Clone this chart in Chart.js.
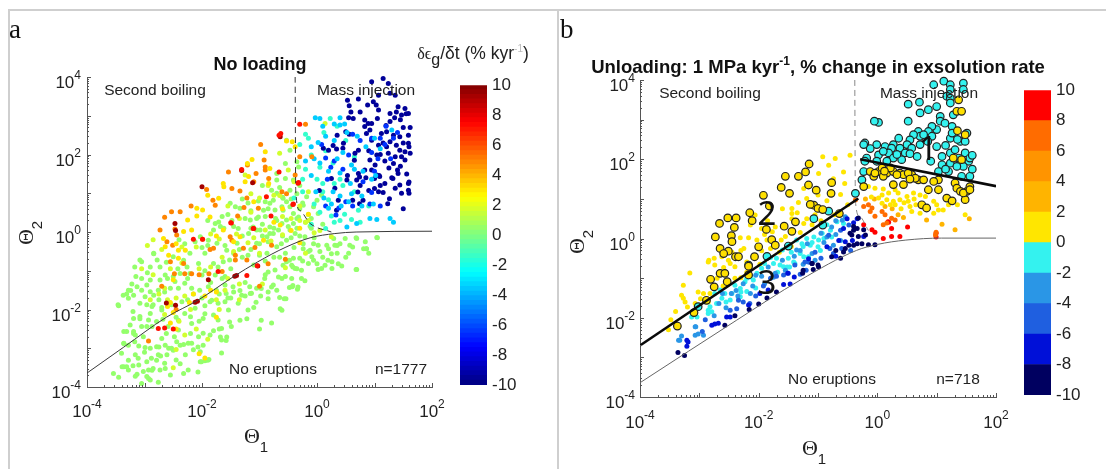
<!DOCTYPE html>
<html><head><meta charset="utf-8">
<script src="https://cdn.jsdelivr.net/npm/chart.js@4"></script>
<style>
html,body{margin:0;padding:0;background:#fff;width:1106px;height:469px;overflow:hidden}
canvas{position:absolute;filter:blur(0.45px)}
.rule{position:absolute;background:#cfcfcf}
</style></head><body>
<div class="rule" style="left:8px;top:9px;width:1098px;height:2px"></div>
<div class="rule" style="left:8px;top:9px;width:2px;height:460px"></div>
<div class="rule" style="left:557px;top:9px;width:2px;height:460px"></div>
<canvas id="ca" width="553" height="469" style="left:0;top:0"></canvas>
<canvas id="cb" width="553" height="469" style="left:553px;top:0"></canvas>
<canvas id="ba" width="90" height="350" style="left:450px;top:70px"></canvas>
<canvas id="bb" width="90" height="360" style="left:1014px;top:75px"></canvas>
<script>
// All point lists are [log10 Theta1, log10 Theta2].
const curveA=[[-4,-3.64],[-3.36,-2.97],[-2.62,-2.2],[-2.07,-1.76],[-1.46,-1.16],[-1.03,-.77],[-.54,-.39],[-.12,-.15],[.31,-.04],[.68,0],[2,.02]];
const curveB=[[-4,-3.64],[-2.37,-2.06],[-1.3,-1.05],[-.35,-.3],[0,-.15],[.48,-.04],[1.08,.01],[2,.01]];
const dashA=[[-.38,4],[-.37,1.07],[-.3,.56],[-.12,.22],[.25,0]];
const dashB=[[-.38,4],[-.37,.95],[-.3,.56],[-.15,.2]];
const line1B=[[-.29,2.0],[2,1.32]];
const line2B=[[-4,-2.7],[-.32,1.01]];

const aRates=[-9.5,-6.5,-3.5,-1.5,0.4,1.6,3,4.9,7.2,9.3];
const aNavy=[[1.15,3.96],[1.24,3.83],[.95,3.88],[1.27,3.58],[1.07,3.53],[1.36,3.53],[.98,3.36],[1.03,3.28],[.72,3.43],[.53,3.4],[.56,3.26],[.59,3.1],[.75,3.1],[.88,3.28],[1.07,3.15],[1.41,3.23],[1.53,3.19],[1.59,3.06],[1.38,3.1],[1.47,3.02],[1.27,3.06],[1.05,2.93],[.83,2.89],[.89,2.8],[.95,2.8],[.55,2.95],[.63,2.93],[.83,2.72],[.92,2.63],[.86,2.54],[.56,2.52],[.5,2.59],[.35,2.5],[1.27,2.85],[1.21,2.59],[1.33,2.5],[1.59,2.5],[1.44,2.46],[1.12,2.54],[1.27,2.33],[1.38,2.24],[1.59,2.29],[1.53,2.07],[1.47,1.94],[1.62,2.03],[1.44,2.11],[1.21,2.2],[1.07,2.24],[.95,2.37],[1.04,1.99],[1.24,2.03],[1.36,1.94],[1.53,1.86],[1.18,1.83],[1.33,1.77],[.92,1.86],[.72,2.11],[.66,2.03],[.11,2.16],[.2,2.11],[.28,2.23],[.46,2.29],[.45,2.16],[.34,2.14],[1.01,1.73],[.83,1.6],[.72,1.51],[1.04,1.47],[1.09,1.43],[1.41,1.51],[1.18,1.25],[1.36,1.13],[1.59,1.25],[1.59,1.08],[1.44,1.21],[.69,1.34],[.52,1.34],[.31,1.13],[1.07,1.04],[1.15,1.02],[1.5,.6],[1.6,1],[1.47,1],[1.32,1.38],[1.26,.86],[1.23,.73],[1,1.12],[.8,.82],[.74,.73],[.62,.82],[.37,.82],[.34,.56],[1.6,1.29],[1.56,1.5],[1,1.38],[.9,1.07],[.71,1.03],[.74,1.42],[.53,1.46],[.25,1.38],[.04,1.07],[1.08,1.46],[1.5,2.7],[1.62,2.7],[1.1,2],[.65,1.85],[.9,2.1],[1.25,1.65],[1.45,1.7],[1.3,1.4],[.85,1.4],[1.55,3.05],[1.45,2.9],[1.35,2.95],[1.2,2.75],[1.15,2.3],[1.5,2.3],[1.6,2.2],[1.4,1.6],[.75,1.2],[.95,1.6],[1.1,1.2]];
const aBlue=[[.95,2.42],[1.33,2.42],[1.4,2.57],[1.18,2.26],[.75,2.36],[.95,2.05],[1.06,1.89],[.55,1.99],[.3,1.83],[.24,1.67],[.08,2.26],[.15,1.91],[.18,1.36],[.5,.78],[.62,.67],[.95,1.02],[1.1,.67],[.62,2.52],[1.2,2.73],[.45,1.62],[.8,1.3],[.92,.72],[1,1.57],[.38,.62],[.33,.44],[.15,.67],[1.28,1.89],[1.1,2.42]];
const aCyan=[[1.27,.35],[1.33,.25],[1.04,.32],[.92,.35],[.69,.22],[.52,.13],[.2,.61],[.25,.72],[.4,.93],[.6,.99],[.78,.93],[.95,1.36],[.65,1.62],[.4,1.52],[.2,1.57],[.05,1.78],[-.05,1.89],[.3,2.36],[.15,2.47],[.02,2.31],[-.2,1.83],[-.1,2.2],[.45,2.05],[.6,1.73],[.8,1.57],[1.02,1.46],[.3,2.79],[.1,2.73],[-.03,2.95],[.48,2.79],[.52,2.57],[.85,2.2],[.7,2.47],[1.1,2.15],[1.3,2.63],[1,2.42],[.58,1.25],[.42,.67],[.28,1.04],[.12,.88],[-.02,1.04],[-.1,1.46],[.35,1.89],[.55,.78],[.78,.67],[.98,.72],[.05,2.93],[.4,2.95],[.4,2.76]];
const aTeal=[[-.15,2.42],[-.1,1.99],[.05,1.67],[.15,2.1],[.3,1.25],[.1,1.25],[.25,.41],[.48,.46],[.6,.32],[.75,.25],[.72,.56],[.9,.67],[.2,.83],[0,1.36],[-.25,1.36],[-.3,2.26],[-.2,2.52],[.35,2.73],[.28,1.78],[.65,1.94],[.5,2.36],[-.05,.72],[.05,.51],[-.4,.88],[.4,.3],[-.25,1.04],[.12,2.57],[.3,.25],[.15,.09],[-.1,.2],[-.2,1.62],[.4,1.36],[.1,1.04],[.45,1.2],[.65,1.04],[.23,2.93]];
const aGreen=[[-3.46,-1.88],[-3.22,-1.34],[-3.31,-1.6],[-3.28,-1.71],[-3.13,-1.41],[-3.05,-1.5],[-2.96,-1.37],[-2.9,-1.54],[-2.84,-1.63],[-3.08,-1.84],[-2.96,-1.88],[-2.87,-1.92],[-3.19,-2.23],[-3.25,-2.4],[-3.31,-2.57],[-3.36,-2.57],[-3.19,-2.57],[-3.16,-2.66],[-3.05,-2.44],[-2.96,-2.44],[-2.87,-2.44],[-3.36,-2.87],[-3.1,-2.94],[-2.99,-2.98],[-2.9,-3],[-2.79,-2.96],[-2.64,-2.92],[-2.58,-3],[-2.76,-3.17],[-2.79,-3.31],[-2.65,-3.39],[-3.16,-3.17],[-3.1,-3.43],[-3.28,-3.31],[-3.36,-3.48],[-3.31,-3.48],[-3.54,-3.65],[-3.45,-3.75],[-3.16,-3.72],[-3.13,-3.67],[-2.93,-3.56],[-2.96,-3.73],[-2.9,-3.82],[-2.76,-3.88],[-2.64,-3.52],[-2.55,-3.69],[-2.32,-3.65],[-2.24,-3.56],[-2.03,-3.35],[-1.95,-3.32],[-1.88,-3.29],[-2.29,-3.17],[-2.18,-2.87],[-2.15,-3.04],[-2.03,-3.09],[-1.98,-2.92],[-1.98,-2.61],[-1.66,-2.79],[-1.57,-2.71],[-1.66,-3.12],
[.68,-.15],[1.04,-.14],[.84,-.25],[.86,-.43],[.81,-.43],[.69,-.17],[.49,-.17],[.29,-.17],[.57,-.34],[.4,-.3],[.31,-.34],[.2,-.43],[.17,-.34],[.02,-.34],[-.06,-.3],[-.24,-.43],[-.09,-.64],[-.06,-.73],[-.15,-.81],[-.3,-.68],[-.41,-.68],[-.44,-.86],[-.38,-.94],[-.59,-.86],[-.53,-.77],[-.73,-.98],[-.85,-1.03],[-.61,-1.2],[-.44,-1.2],[-.27,-1.2],[-.21,-1.26],[-.76,-1.37],[-.97,-1.46],[-1.17,-1.41],[-.48,-1.43],[-.43,-1.41],[-.34,-1.48],[-.65,-1.69],[-.54,-1.72],[.26,-.94],[.14,-.86],[.02,-.97],[.08,-.94],[.26,-.77],[.43,-.88],[.69,-.97],[.35,-.55],
[-.59,.56],[-.47,.65],[-.41,.48],[-.35,.35],[-.53,.31],[-.61,.22],[-.82,.13],[-.76,-.04],[-.87,-.12],[-.47,.05],[-.38,-.04],[-.99,.05],[-.21,-.12],[-.06,.65],[.02,.48],[0,.82],[.08,.95],[-.18,.91],[-.24,.69],[-.59,.87],[-.76,.82],[-.93,.56],[-1.05,.35],[-1.11,.13],
[-1.51,.74],[-1.42,.65],[-1.34,.61],[-1.71,.26],[-1.77,.22],[-1.68,.14],[-1.8,.05],[-1.45,.14],[-1.37,.09],[-1.25,.35],[-1.16,.31],[-1.02,.39],[-.82,.74],[-.73,.57],[-.61,.65],[-.53,.78],[-.47,1.08],[-.35,.99],[-.7,1.34],[-.55,1.38],[-.41,1.34],[-.79,1.08],[-.9,.78],[-1.05,.05],[-.82,-.04],[-.67,.05],[-.5,.14],[-.41,.22],[-.32,.39],[-.53,-.21],[-.7,-.38],[-.87,-.55],[-1.05,-.29],[-1.19,-.04],[-1.39,-.29],[-1.57,-.47],[-1.74,-.29],[-1.89,-.21],[-2.03,-.12],[-1.95,-.55],[-2.21,-.55],[-2.5,-.64],[-2.84,-.55],[-3.08,-.72],[-2.9,-.9],[-2.73,-.9],[-1.8,-.81],[-1.63,-.77],[-2.06,-.81],[-2.26,-.9],[-.55,1.77],[-.7,1.51],[-.35,1.81],[-.47,2.11],[-.32,1.68],[-.53,2.37],
[-3.28,-1.5],[-3.37,-1.63],[-3.19,-1.63],[-2.99,-1.67],[-2.76,-1.5],[-2.73,-1.24],[-2.64,-1.11],[-2.47,-1.28],[-2.41,-1.45],[-2.3,-1.32],[-2.18,-1.45],[-2.04,-1.5],[-1.89,-1.41],[-1.75,-1.5],[-1.6,-1.37],[-1.46,-1.41],[-1.31,-1.63],[-1.14,-1.58],[-1.77,-1.11],[-1.6,-1.15],[-2,-1.11],[-2.21,-1.07],[-2.38,-1.07],[-2.9,-1.24],[-2.85,-1.88],[-2.7,-2.01],[-2.53,-1.88],[-2.35,-1.8],[-2.12,-1.97],[-1.86,-1.8],[-1.72,-1.84],[-1.54,-2.01],[-1.37,-1.84],[-1.2,-2.01],[-1.8,-2.14],[-1.98,-2.23],[-2.18,-2.36],[-2.41,-2.53],[-2.59,-2.44],[-2.79,-2.31],[-3.08,-2.18],[-2.93,-2.27],[-2.44,-2.83],[-2.53,-3],[-2.38,-2.92],[-2.24,-2.87],[-2.06,-2.7],[-1.86,-2.66],[-1.66,-2.49],[-1.49,-2.44],[-1.72,-2.27],[-2.73,-3.56],[-2.85,-3.52],[-2.61,-3.17],[-3.02,-3.6],[-3.28,-3.56],[-2.96,-3.35],[-2.88,-3.26],[-3.11,-3.26],[-3.4,-3.13],[-3.28,-2.92],[-3.17,-2.83],
[-.79,-2.35],[-.97,-2.28],[-1,-2.5],[-.64,-1.98],[-.61,-2.02],[-.57,-1.72],[-.33,-1.42],[-.42,-1.38],[-.27,-.99],[-1.22,-2.24],[-1.34,-2.28],[-1.52,-2.32],[-1.68,-2.71],[-1.58,-2.8],[-1.9,-3.31],[-2.01,-3.35],[-2.07,-3.61],[-1.06,-1.81],[-1.16,-1.59],[-.85,-1.72],[-.79,-1.42],[-.67,-1.16],[-.42,-.9],[0,-.82],[.19,-.73],[.37,-.82],[.68,-.97],[.86,-.43],[1.05,-.15],[.62,-.39],[.25,-.56],[-.12,-.47],[-.24,-.3],[-.48,-.73],[-.91,-1.2],[-1.34,-1.51],[-1.58,-1.59],[-1.83,-1.76],[-1.95,-2.11],[-2.2,-2.19],[-2.41,-2.28],[-2.62,-2.62],[-2.2,-2.62],[-2.75,-2.97],[-2.5,-3.05],[-2.07,-2.97],[-2.38,-3.4],[-2.87,-3.57],[-3.05,-3.91],[-2.93,-3.78],[-3.39,-3.48],[-3.36,-2.88],[-3.19,-2.62],[-3.08,-2.24],[-3.45,-1.9],[-3.24,-1.51],[-3.05,-.77],[-2.84,-.56],[-3.17,-.9],[-2.32,-.73],
[-1.3,-.65],[-1.1,-.85],[-.9,-.75],[-.75,-.65],[-.55,-.55],[-1.5,-.95],[-1.65,-1.2],[-1.85,-1.3],[-1.25,-1.3],[-1.05,-1.45],[-.85,-1.55],[-.9,-1.1],[-1.7,-1.6],[-1.55,-1.7],[-1.1,-1.95],[-.35,-.95],[-.15,-.5],[.1,-.65],[.5,-.65],[.9,-.55],[-1.6,-.35],[-1.45,-.55],[-1.15,-.45],[-1,-.6],[-1.3,-.1],[-1.15,.1],[-.95,.2],[-.7,.3],[-.6,-.1],[-.35,.1],[-.2,.25],[-.1,.1],[-.15,.45],[-.65,-.65],[-.4,-.4],[-.05,-.15],[-.3,.6],[-.7,1],[-.9,.4],[-.6,.9],[-.25,.75],[-.1,.35],[.1,.2],[-.95,1.2],[-1.15,.55],[-1.3,.85],[-1.55,.45],[-1.65,.4],[-1.9,.3],[-2,-.4],[-2.3,-.3],[-2.6,-1.2],[-2.5,-1.15],[-2.15,-1.6],[-2,-1.7],[-2.75,-1.75],[-2.65,-1.55],[-3.05,-1.2],[-3.15,-1.15],[-2.7,-1.95],[-2.3,-2.1],[-2.05,-2.3],[-1.5,-1.7],[-1.25,-1.65],[-1.8,-2.55],[-1.7,-2.5],
[-2.95,-1.05],[-2.78,-.72],[-2.62,-.78],[-2.42,-.95],[-2.25,-1.2],[-1.95,-1.0],[-1.72,-.9],[-1.52,-.72],[-1.35,-.45],[-1.2,-.6],[-1,-.3],[-.85,-.25],[-.62,-.3],[-.45,-.15],[-.3,-.1],[-.12,.15],[-.75,.1],[-.95,-.1],[-1.48,.3],[-1.62,.1],[-1.9,-.35],[-2.12,-.25],[-2.4,-.2],[-1.02,.8],[-1.2,.75],[-.85,.6],[-.72,.35],[-.45,.85],[-.3,1.2],[-.65,1.15],[-2.55,-1.45],[-2.9,-2.1],[-2.68,-2.25],[-2.45,-2.2],[-2.25,-1.75],[-1.95,-1.9],[-1.6,-1.8],[-1.45,-1.55],[-.98,-1.65],[-.7,-1.5],[-.55,-1.15],[-.25,-.75],[.05,-.5],[.35,-.35],[.55,-.55],[-3.2,-2.05],[-3.02,-2.7],[-2.7,-2.75],[-2.48,-2.7],[-2.32,-2.9],[-2.72,-3.2],[-2.45,-3.3],[-3.2,-3.45],[-3.0,-3.1]];
const aLime=[[-2.75,-1.6],[-2.65,-1.45],[-2.45,-1.7],[-2.3,-1.65],[-2.2,-2],[-1.75,-1.75],[-1.6,-1.5],[-1.35,-1.75],[-2.85,-1.1],[-2.55,-.95],[-2.35,-.8],[-2.05,-.95],[-1.85,-.9],[-1.65,-.65],[-1.45,-.5],[-1.2,-.28],[-1,-.55],[-.8,-.23],[-.6,-.07],[-.45,.35],[-.3,.67],[-.15,1.04],[-.2,.25],[-.05,-.02],[-1.35,.35],[-1.15,.51],[-1,.88],[-1.55,.67],[-1.7,-.18],[-2.1,-.39],[-2.35,-.39],[-.85,1.2],[-.65,.94],[-.4,1.3],[-.65,2.03],[-1.25,1.47],[-1.15,.99],[-2.45,-3.03],[-2.5,-3.5],[-1.9,-2.77],[-2.3,-2.66],[-2.65,-2.13],[-1.35,-1.34],[.05,.04],[.25,-.12],[-.2,-.55],[-.55,-.92],[-.95,-1.34],[.14,2.8],[-.3,.3],[-.6,.4],[-.9,.05],[-1.1,-.15],[-1.4,-.05],[-1.85,-.05],[-2.7,-.45],[-2.85,-.2],[-2.95,-.35],[-3.05,-.95],[-2.9,-1.75],[-2.6,-1.75],[-2.4,-2.3],[-2.1,-2.5],[-1.7,-2],[-1.55,-1.2],[-.75,.95],[-.5,1.6],[-.15,.3]];
const aYellow=[[-1.21,1.77],[-1.13,1.87],[-.9,2.07],[-.53,2.35],[-.43,2.33],[-.38,2.2],[-1.63,1.25],[-1.62,1.17],[-1.9,.95],[-1.71,.87],[-2.09,.61],[-1.99,.57],[-1.86,.39],[-2.09,.41],[-2.25,.31],[-2.18,.05],[-2.32,.01],[-2.67,-.17],[-2.64,-.38],[-2.41,-.47],[-2.29,-.47],[-2.41,-.68],[-1.25,1.3],[-1.19,1.43],[-.84,1.25],[-1.1,.78],[-.93,-.21],[-1.34,-.12],[-1.63,.05],[-.64,.18],[-.82,1.64],[-2.5,-1.23],[-2.55,-1.82],[-2.6,-1.92],[-2.5,-2.08],[-2.55,-2.35],[-2.45,-2.5],[-2.22,-1.82],[-2.15,-1.6],[-1.95,-1.65],[-1.85,-1.5],[-1.75,-1.55],[-2.05,-3.14],[-1.95,-3.25],[-1.75,-2.2],[-.3,.1],[-.15,.46],[-.45,.04],[-.3,-.28],[-.75,.25],[-.6,.6],[-1.45,-.25],[-1.75,-.1],[-2.58,-.6],[-2.45,-.3]];
const aOrange=[[-.98,2.26],[-1.54,1.55],[-1.21,1.73],[-.92,1.86],[-1.92,1.1],[-1.81,.82],[-1.77,.69],[-2.19,.67],[-2.53,.52],[-2.38,.52],[-2.65,.38],[-2.73,.05],[-2.47,.08],[-2.44,-.08],[-2.61,-.25],[-2.51,-.34],[-2.55,-.77],[-2.32,-.81],[-1.48,1.12],[-1.34,1.06],[-1.22,.88],[-1.06,1.51],[-.9,1.6],[-.84,1.38],[-1.1,1.3],[-1.02,.61],[-1.38,.41],[-1.27,.63],[-1.51,-.12],[-1.48,-.21],[-1.86,-.45],[-1.8,-.42],[-1.99,-.19],[-1.28,-.42],[-1.08,-.4],[-1.42,-.6],[-1.22,-.72],[-1.42,-.72],[-.79,-.34],[-.61,1.04],[-.38,1.47],[-.53,.99],[-.9,1.68],[-.3,1.94],[-.09,1.94],[-.2,2.78],[-2.48,-1.08],[-2.3,-1.08],[-2.18,-1.08],[-2.05,-1.1],[-1.88,-1.08],[-2.7,-1.4],[-2.93,-2.81],[-2.45,-2],[-1.65,-1.02],[-.85,-.82],[-1,-1.4],[-.55,-.7]];
const aRed=[[-.66,2.5],[-.63,2.54],[-.66,1.55],[-1.31,1.61],[-.88,.91],[-.8,.41],[-.41,.72],[-.32,1.28],[-1.5,.24],[-2.15,-.19],[-1.99,-.19],[-1.04,-.87],[-1.1,.09],[-.3,2.78],[-2.76,-2.49],[-2.65,-2.48],[-2.5,-2.5],[-1.49,.23],[-1.11,.09],[-.33,1.26],[-1.22,-1.12],[-1.72,-1.02],[-.42,.71]];
const aDark=[[-2.47,.22],[-2,1.17],[-1.12,1.27],[-2.46,.04],[-1.31,1.59],[-2.62,-1.83],[-2.12,-1.81],[-2.08,-1.79],[-1.89,-1.23],[-1.43,-1.14],[-1.4,-1.12],[-1.03,-.88],[-2.46,-1.89],[-.64,2.46]];

const bNavy=[[-3.36,-2.88],[-2.57,-2.19],[-2.4,-1.95],[-2.16,-1.79],[-1.86,-1.5],[-1.26,-.88],[-1.25,-.8],[-1.1,-.63],[-1,-.67],[-1.08,-.78],[-.4,.21],[-.46,.13],[-.34,.25],[-.4,-.17],[-.54,-.25],[-.57,-.34],[-.77,-.46],[-1.1,-.63],[-.99,-.72],[-.48,-.17],[-.34,-.13],[-.32,.52],[-.4,.3],[-.23,.22],[-.2,.09],[-.32,.05],[-.26,-.13],[-.15,-.16],[-.04,-.16],[-.43,.09],[-.7,-.3],[-.62,-.5],[-3.25,-2.95],[-2,-1.65],[-1.7,-1.35]];
const bBlue=[[-3.21,-2.57],[-3.19,-2.61],[-3.21,-2.72],[-2.68,-2.14],[-2.79,-2.19],[-2.74,-2.16],[-2.54,-1.98],[-2.48,-1.98],[-2.17,-1.68],[-1.98,-1.39],[-1.84,-1.3],[-1.58,-1.16],[-1.47,-1.15],[-1.51,-.88],[-1.4,-.97],[-.51,.5],[-.57,.25],[-.54,-.08],[-.85,-.21],[-1.16,-.51],[-.34,.5],[-.42,-.05],[-.7,-.45],[-.23,.05],[-.4,.4],[-.65,-.05]];
const bRoyal=[[-2.37,-1.77],[-2.48,-1.81],[-2.15,-1.64],[-2.26,-1.6],[-2.34,-1.56],[-1.58,-.92],[-1.5,-.88],[-1.39,-.67],[-1.22,-.59],[-.82,.08],[-.74,-.38],[-.95,-.5],[-1.3,-.9],[-1.15,-.6],[-.62,.21],[-.48,.34],[-.6,-.25],[-.45,-.3],[-1.8,-1],[-1.7,-.95],[-2.9,-2.05],[-2.95,-2.35],[-2.05,-1.45],[-1.92,-1.2],[-1.2,-.8],[-1.05,-.35],[-.8,-.25]];
const bSky=[[-3.07,-2.23],[-3.07,-2.44],[-3.3,-2.46],[-3.35,-2.57],[-3.02,-2.41],[-2.93,-2.44],[-.74,-.17],[-.85,.04],[-1.1,-.38],[-.54,.55],[-3.33,-2.57],[-3.06,-2.23],[-2.67,-1.64],[-2.46,-1.39],[-2.26,-1.14],[-2.05,-.93],[-1.84,-.72],[-1.6,-.55],[-1.36,-.29],[-1.18,-.13],[-.95,.13],[-.77,.29],[-.59,.46],[-2.61,-1.39],[-2.38,-1.31],[-2.14,-1.39],[-1.9,-1.14],[-1.72,-.88],[-2.75,-1.95],[-2.55,-1.75],[-2.35,-1.45],[-2.1,-1.2],[-1.95,-.95],[-1.75,-.98],[-1.55,-.8],[-1.4,-.45],[-1.25,-.65],[-1.05,-.55],[-1.3,-.3],[-.9,-.1],[-.7,.1],[-.62,-.05],[-.7,.45]];
const bCyan=[[-2.74,-1.39],[-2.82,-1.72],[-2.62,-1.51],[-2.48,-1.55],[-2.31,-1.26],[-2.23,-1.09],[-2.09,-1.05],[-2.03,-.88],[-1.75,-.63],[-1.58,-.71],[-1.39,-.63],[-2.2,-1.34],[-2.31,-1.47],[-2.34,-1.51],[-2.45,-1.39],[-2.57,-1.39],[-2.71,-1.64],[-2.79,-1.85],[-2.85,-1.89],[-3.04,-1.98],[-3.13,-1.98],[-1.19,0],[-1.27,-.13],[-1.13,-.17],[-.99,-.04],[-.79,.21],[-.68,.42],[-.96,-.3],[-1.3,-.38],[-1.41,-.59],[-1.64,-.67],[-1.52,-.72],[-1.16,-.46],[-.93,.13],[-.57,.38],[-1.48,-.72],[-1.24,-.46],[-1,-.21],[-.77,.04],[-1.07,.04],[-1.36,-.04],[-1.6,-.29],[-1.9,-.63],[-2.14,-.97],[-2.85,-1.81],[-2.65,-1.3],[-2.4,-1.18],[-2.2,-1.0],[-1.95,-.75],[-1.8,-.48],[-1.7,-.5],[-1.45,-.35],[-1.25,-.2],[-1.1,-.1],[-.85,.35],[-.9,.0],[-1.5,-.5],[-1.68,-.85],[-2.05,-1.25],[-2.3,-1.35],[-2.55,-1.6]];
const bYellow=[[-.99,1.64],[-.82,1.85],[-.92,2.06],[-.71,2.02],[-.46,2.1],[-.57,1.68],[-.74,1.51],[-.55,1.39],[-1.24,1.26],[-1.19,1.01],[-1.33,.91],[-.62,1.11],[-1.44,.76],[-1.44,.63],[-1.44,.5],[-1.72,.29],[-1.77,.17],[-1.86,-.04],[-2.03,-.04],[-2.17,.02],[-2.31,.02],[-2.25,-.25],[-2.14,.34],[-2.06,.59],[-2.84,-.55],[-2.62,-.46],[-2.51,-.55],[-2.2,-.59],[-2.06,-.5],[-1.24,.38],[-1.19,.5],[-2.59,-.73],[-3.16,-.87],[-3.3,-1.43],[-3.27,-1.51],[-3.24,-1.6],[-3.02,-1.35],[-2.93,-1.39],[-3.07,-1.64],[-3.52,-2.3],[-2.85,-1.6],[-2.85,-.59],[-2.74,-.67],[-2.65,-.84],[-2.48,-.63],[-2.4,-.71],[-3.27,-1.18],[-2.82,-1.39],[-3.4,-1.84],[-3.48,-2.05],[-3.2,-1.73],[-2.98,-1.52],[-2.6,-1.2],[-2.3,-.99],[-1.95,-.31],[-1.8,-.25],[-1.62,-.04],[-2.7,-1.0],[-2.75,-.5],[-2.45,-.35],[-2.3,-.3],[-1.9,.1],[-1.55,.05],[-1.3,.15],[-1.1,.35],[-.85,.95],[-1.6,.75],[-1.85,.45],[-1.95,.25],[-2.4,-1.0],[-2.2,-.85],[-1.98,-.65],[-1.65,-.35],[-1.45,-.2],[-1.05,.6],[-.95,.45],[-.72,.6],[-.5,.85],[-1.35,.65],[-1.0,1.1],
[-.15,1.31],[-.04,1.27],[.08,1.1],[.19,1.15],[.3,1.23],[.02,1.02],[.16,.98],[.27,.94],[.38,.98],[.52,.94],[.5,1.06],[.61,1.15],[.72,1.1],[.81,1.06],[.22,.85],[.55,.81],[.58,.68],[.72,.64],[.95,.64],[1.03,.72],[1.11,.72],[1.48,.6],[.08,.89],[.95,.94],[.4,.75],[.3,.85],[1.2,.85],[1.35,.85],[.45,.9],[.65,.85],[.85,.8],[1.0,.85],[-.1,1.05],[.1,1.25],[.35,1.15],[.62,1.0]];
const bGold=[[.83,.47],[1.09,.36],[1.31,.22],[.44,.53],[.13,.81],[.35,.6],[1.55,.5],[-.05,1.0],[-.2,1.0],[.25,.75]];
const bOrange=[[-.23,.81],[-.15,.85],[-.09,.77],[-.12,.68],[-.04,.56],[.08,.68],[.13,.6],[.16,.39],[.1,.35],[.24,.51],[.3,.47],[.99,.16],[.98,.09],[-.34,1.14],[-.37,.97]];
const bRed=[[.19,.41],[-.23,.35],[-.09,.22],[-.04,.16],[.24,.25],[.24,.05],[.38,.05],[.51,.29],[.99,.13],[.99,.04],[.1,0],[.18,.42]];
const bCyanEdged=[[1.12,3.97],[1.23,3.88],[.95,3.88],[1.23,3.76],[1.45,3.92],[1.45,3.76],[1.17,3.59],[1.23,3.54],[1.23,3.42],[1,3.33],[.86,3.25],[.71,3.44],[.52,3.39],[.72,3.17],[.52,2.96],[.02,2.93],[-.05,2.96],[1.06,3.08],[1.06,2.96],[1.28,3.12],[1.14,2.91],[1.26,2.83],[1,2.75],[.92,2.83],[.86,2.7],[.69,2.7],[.72,2.58],[.61,2.62],[.55,2.49],[.36,2.53],[.5,2.37],[.27,2.37],[.13,2.32],[-.01,2.37],[-.12,2.27],[-.21,2.41],[-.23,2.37],[1.4,2.45],[1.23,2.53],[1.26,2.66],[1.51,2.66],[1.48,2.45],[1,2.32],[1.09,2.07],[1.09,1.86],[1.23,2.16],[1.31,2.24],[1.37,2.03],[1.48,2.16],[1.54,1.95],[1.23,1.9],[1.2,1.69],[1.03,1.69],[1.45,1.82],[1.56,2.03],[1.34,1.82],[1.42,1.57],[1.56,1.57],[.24,2.28],[.38,2.28],[.58,2.28],[.47,2.16],[.19,2.16],[.02,2.11],[.27,2.03],[.41,1.99],[.16,1.95],[-.01,1.95],[.67,2.07],[-.18,2.03],[-.23,1.69],[-.26,1.48],[-.21,1.95],[.72,2.37],[.92,2.58],[.78,2.62],[.1,2.2],[.33,2.12],[.55,2.14],[.85,2.45],[1.15,2.35],[1.35,2.5],[1.6,2.1],[1.6,1.75],[1.15,1.75],[.9,1.95]];
const bYellowEdged=[[-.12,1.69],[-.06,1.57],[.02,1.69],[.08,1.78],[.16,1.65],[.1,1.57],[.27,1.69],[.38,1.65],[.44,1.61],[.58,1.61],[.69,1.48],[.78,1.48],[.86,1.23],[1.03,1.23],[1.03,1.48],[1.31,1.4],[1.34,1.27],[1.51,1.19],[1.56,1.31],[.27,1.36],[.44,1.36],[1.17,1.02],[1.26,.95],[1.48,.98],[.75,.85],[.83,.77],[-.23,1.31],[1.37,3.5],[1.48,2.62],[1.42,1.99],[1.28,2.03],[1.34,3.21],[1.35,2.72],[1.42,3.21],[.33,1.61],[-.04,1.65],[.22,1.78],[.52,1.65],[.64,1.52],[.95,1.44],[1.4,1.19],[1.45,1.15],[1.56,1.23],[.12,1.7],[.55,1.5],
[-1.15,1.88],[-1.21,1.68],[-1.33,1.57],[-1.55,1.57],[-1.62,1.29],[-1.48,1.14],[-1.92,1.09],[-1.82,.82],[-2.15,.65],[-2.52,.52],[-2.38,.52],[-2.66,.38],[-2.41,.28],[-2.11,.45],[-2.73,.04],[-2.46,.07],[-2.45,-.08],[-2.51,-.32],[-2.65,-.25],[-2.59,-.38],[-2.39,-.46],[-2.34,-.46],[-2.07,-.46],[-2,-.21],[-1.87,.23],[-1.78,-.03],[-1.72,-.17],[-1.57,.31],[-1.38,.42],[-1.44,.18],[-1.07,.84],[-1.13,.86],[-1,.76],[-.92,.73],[-.77,1.41],[-.78,1.14],[-1.16,1.35],[-1.03,1.22],[-.64,.63],[-2.81,-1.03],[-2.75,-1.22],[-2.65,-.88],[-2.57,-.88],[-2.53,-1.09],[-2.17,-.92],[-2.88,-1.56],[-3.09,-1.87],[-3.37,-2.21],[-2.17,-.7]];
const bCyanEdgedLow=[[-.82,.69],[-1.07,.5],[-.92,.34],[-1.86,-.45],[-1.5,-.19],[-2.17,-.67],[-.37,1.14],[-3.02,-1.72]];

const thetaTicks=[-4,-2,0,2];
const thetaYTicks=[-4,-2,0,2,4];
const barTicks=[-10,-8,-6,-4,-2,0,2,4,6,8,10];
const bBarColors=['#000060','#0010d8','#1f5fe0','#2a96e6','#34f2ef','#ffe600','#ffb400','#ff9400','#ff6c00','#ff0000'];

function jet(v){const t=(v+10)/20;const f=k=>Math.max(0,Math.min(1,1.5-Math.abs(4*t-k)));
  return `rgb(${Math.round(255*f(3))},${Math.round(255*f(2))},${Math.round(255*f(1))})`;}
const lg=p=>p.map(([x,y])=>({x:10**x,y:10**y}));
const SANS='"Liberation Sans",Arial,sans-serif', SERIF='"Liberation Serif",serif';

function runs(ctx,x,y,list,align){ // list of [text,font,dy,color]
  let w=0;list.forEach(r=>{ctx.font=r[1];w+=ctx.measureText(r[0]).width});
  let cx=align==='center'?x-w/2:align==='right'?x-w:x;
  ctx.textAlign='left';ctx.textBaseline='alphabetic';
  list.forEach(r=>{ctx.font=r[1];ctx.fillStyle=r[3]||'#222';ctx.fillText(r[0],cx,y+(r[2]||0));cx+=ctx.measureText(r[0]).width});
}
function axisPlugin(o){return {id:'axisArt',afterDatasetsDraw(chart){
  const {ctx,scales:{x,y}}=chart;const a=chart.chartArea;ctx.save();
  ctx.strokeStyle='#555';ctx.lineWidth=1;
  for(let d=-4;d<=4;d++)for(let m=1;m<10;m++){
    const v=m*10**d;
    if(d<2||(d===2&&m===1)){const px=Math.round(x.getPixelForValue(v))+.5;const l=m===1?4:2;ctx.beginPath();ctx.moveTo(px,a.bottom);ctx.lineTo(px,a.bottom-l);ctx.stroke();}
    if(d<4||m===1){const py=Math.round(y.getPixelForValue(v))+.5;const l=m===1?4:2;ctx.beginPath();ctx.moveTo(a.left,py);ctx.lineTo(a.left+l,py);ctx.stroke();}
  }
  const big='17px '+SANS,sm='12px '+SANS;
  thetaTicks.forEach(e=>{runs(ctx,x.getPixelForValue(10**e),o.xLabelY,[['10',big],[String(e),sm,-9]],'center')});
  thetaYTicks.forEach(e=>{runs(ctx,o.yLabelX,y.getPixelForValue(10**e)+11,[['10',big],[String(e),sm,-9]],'right')});
  o.text(ctx);
  ctx.restore();
}}}
function scatterConfig(datasets,o,plugin){return {type:'scatter',data:{datasets},
  options:{responsive:false,animation:false,clip:false,
    layout:{padding:{top:o.top,right:o.right,left:0,bottom:0}},
    plugins:{legend:{display:false},tooltip:{enabled:false}},
    scales:{
      x:{type:'logarithmic',min:1e-4,max:1e2,grid:{display:false},border:{color:'#555'},ticks:{display:false},afterFit:s=>{s.height=o.bottom}},
      y:{type:'logarithmic',min:1e-4,max:1e4,grid:{display:false},border:{color:'#555'},ticks:{display:false},afterFit:s=>{s.width=o.left}}
    }},plugins:[plugin]};}
const pts=(p,c,o,edge)=>({data:lg(p),pointRadius:edge?3.8:2.5,pointBackgroundColor:c,pointBorderColor:edge?'#222':c,pointBorderWidth:edge?1.2:0,showLine:false,order:o});
const ln=(p,c,w,o,dash,mono)=>({data:lg(p),showLine:true,borderColor:c,borderWidth:w,pointRadius:0,borderDash:dash||[],order:o,clip:true,cubicInterpolationMode:mono?'monotone':'default'});

// Panel a
const aGroups=[aNavy,aBlue,aCyan,aTeal,aGreen,aLime,aYellow,aOrange,aRed,aDark];
const aOrder=[6,5,4,7,9,8,3,3,2,2];
const aSets=aGroups.map((g,i)=>pts(g,jet(aRates[i]),aOrder[i]));
aSets.unshift(ln(curveA,'#3a3a3a',1,1,null,true),ln(dashA,'#333',1,1,[6,4],true));
new Chart(document.getElementById('ca'),scatterConfig(aSets,{top:77,right:121,left:87,bottom:82},axisPlugin({xLabelY:417,yLabelX:81,text(ctx){
  runs(ctx,9,38,[['a','27px '+SERIF,0,'#111']]);
  runs(ctx,260,70,[['No loading','bold 18px '+SANS,0,'#111']],'center');
  runs(ctx,155,95,[['Second boiling','15.5px '+SANS]],'center');
  runs(ctx,366,95,[['Mass injection','15.5px '+SANS]],'center');
  runs(ctx,273,374,[['No eruptions','15.5px '+SANS]],'center');
  runs(ctx,401,374,[['n=1777','15.5px '+SANS]],'center');
  runs(ctx,256,443,[['Θ','22px '+SERIF],['1','15px '+SANS,9]],'center');
  ctx.save();ctx.translate(33,233);ctx.rotate(-Math.PI/2);runs(ctx,0,0,[['Θ','22px '+SERIF],['2','15px '+SANS,9]],'center');ctx.restore();
  runs(ctx,473,59,[['δϵ','16px '+SERIF],['g','16px '+SANS,6],['/δt (% kyr','17.5px '+SANS],['-1','10px '+SANS,-7,'#bbb'],[')','17.5px '+SANS]],'center');
}})));

// Panel b
const bGroups=[bNavy,bBlue,bRoyal,bSky,bCyan,bYellow,bGold,bOrange,bRed];
const bSets=bGroups.map((g,i)=>pts(g,bBarColors[[0,1,2,3,4,5,6,8,9][i]],8));
bSets.unshift(ln(curveB,'#666',1,5,null,true),ln(dashB,'#888',1,5,[6,4],true),
  pts(bCyanEdged,'#34f2ef',4,true),pts(bCyanEdgedLow,'#34f2ef',4,true),pts(bYellowEdged,'#ffe000',3,true),
  ln(line1B,'#0a0a0a',2.6,1),ln(line2B,'#0a0a0a',2.6,1));
new Chart(document.getElementById('cb'),scatterConfig(bSets,{top:80,right:110,left:87,bottom:72},axisPlugin({xLabelY:428,yLabelX:82,text(ctx){
  runs(ctx,7,38,[['b','27px '+SERIF,0,'#111']]);
  runs(ctx,265,73,[['Unloading: 1 MPa kyr','bold 18.5px '+SANS,0,'#111'],['-1','bold 12px '+SANS,-8,'#111'],[', % change in exsolution rate','bold 18.5px '+SANS,0,'#111']],'center');
  runs(ctx,157,98,[['Second boiling','15.5px '+SANS]],'center');
  runs(ctx,376,98,[['Mass injection','15.5px '+SANS]],'center');
  runs(ctx,279,384,[['No eruptions','15.5px '+SANS]],'center');
  runs(ctx,405,384,[['n=718','15.5px '+SANS]],'center');
  runs(ctx,261,455,[['Θ','22px '+SERIF],['1','15px '+SANS,9]],'center');
  ctx.save();ctx.translate(31,242);ctx.rotate(-Math.PI/2);runs(ctx,0,0,[['Θ','22px '+SERIF],['2','15px '+SANS,9]],'center');ctx.restore();
  const big='33px "Noto Sans",sans-serif';
  runs(ctx,375,160,[['1',big,0,'#111']],'center');
  runs(ctx,214,225,[['2',big,0,'#111']],'center');
  runs(ctx,214,294,[['3',big,0,'#111']],'center');
}})));

// Colour bars
function barChart(id,bands,o){
  new Chart(document.getElementById(id),{type:'bar',data:{labels:[''],datasets:bands.map(b=>({data:[[b.lo,b.hi]],backgroundColor:b.c,borderWidth:0,borderSkipped:false,barPercentage:1,categoryPercentage:1,grouped:false}))},
  options:{responsive:false,animation:false,layout:{padding:{left:10,top:o.top,bottom:o.bottom}},
    plugins:{legend:{display:false},tooltip:{enabled:false}},
    scales:{x:{display:false,grid:{display:false}},
      y:{position:'right',min:-10,max:10,grid:{display:false,drawTicks:false},border:{display:false},afterFit:s=>{s.width=53},
        afterBuildTicks:s=>{s.ticks=barTicks.map(v=>({value:v}))},
        ticks:{color:'#222',font:{size:17,family:SANS},padding:5,autoSkip:false,maxRotation:0}}}}});
}
const jetBands=[];for(let i=0;i<64;i++){const lo=-10+i*20/64,hi=lo+20/64;jetBands.push({lo,hi:hi+.02,c:jet((lo+hi)/2)});}
barChart('ba',jetBands,{top:7,bottom:35});
barChart('bb',bBarColors.map((c,i)=>({lo:-10+2*i,hi:-8+2*i,c})),{top:7,bottom:40});
</script>
</body></html>
